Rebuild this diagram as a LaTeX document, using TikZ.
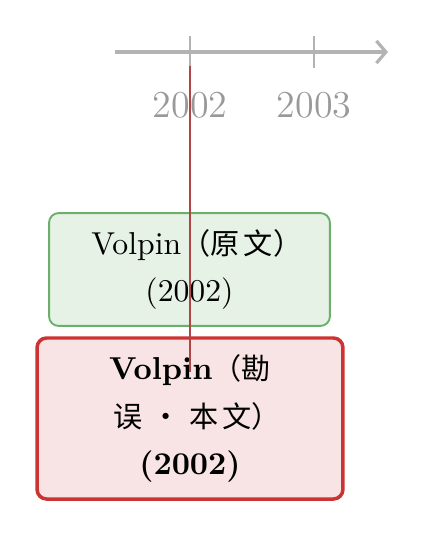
\documentclass[tikz,border=0pt]{standalone}
\usepackage{fontspec}
\usepackage{tikz}
\usetikzlibrary{arrows.meta,positioning}
\newfontfamily\zhfont[Scale=0.92]{Noto Sans CJK SC}
\newcommand{\zh}[1]{{\zhfont\mdseries #1}}
\definecolor{axisgray}{HTML}{B3B3B3}
\definecolor{yeargray}{HTML}{999999}
\definecolor{origline}{HTML}{6BAF6B}
\definecolor{origfill}{HTML}{E7F2E7}
\definecolor{fixline}{HTML}{CC3333}
\definecolor{fixfill}{HTML}{F8E4E4}
\definecolor{markred}{HTML}{B04545}
\tikzset{
  axis/.style={-{Straight Barb[length=3pt,width=7pt]},line width=1pt,axisgray},
  tick/.style={line width=0.5pt,axisgray},
  year/.style={font=\large,text=yeargray},
  origbox/.style={rectangle,rounded corners=3pt,draw=origline,line width=0.6pt,fill=origfill,align=center,minimum width=88.6pt,minimum height=35.6pt,font=\fontsize{10}{15}\selectfont},
  fixbox/.style={rectangle,rounded corners=3pt,draw=fixline,line width=1.1pt,fill=fixfill,align=center,minimum width=96.5pt,minimum height=50.8pt,font=\fontsize{10}{15}\selectfont\bfseries},
  marker/.style={line width=0.5pt,markred}
}
\begin{document}
\begin{tikzpicture}[x=0.3155pt,y=-0.3155pt]
  \useasboundingbox (0,0) rectangle (426,538);
  % timeline
  \coordinate (t0) at (115,52);
  \coordinate (t1) at (388,52);
  \draw[axis] (t0) -- (t1);
  \draw[tick] (190,36) -- (190,68);
  \draw[tick] (314,36) -- (314,68);
  \node[year] (y2002) at (190,105) {2002};
  \node[year] (y2003) at (314,105) {2003};
  % papers
  \node[origbox] (orig) at (189.5,269.5) {Volpin\zh{（原\hspace{0.15em}文）\kern-0.5em}\\(2002)};
  \node[fixbox] (fix) at (190,418.5) {Volpin\zh{（勘}\\\zh{误\hspace{0.3em}·\hspace{0.3em}本\hspace{0.15em}文）\kern-0.5em}\\(2002)};
  \coordinate (mtop) at (190,66);
  \coordinate (mend) at (190,372);
  \draw[marker] (mtop) -- (mend);
\end{tikzpicture}
\end{document}
